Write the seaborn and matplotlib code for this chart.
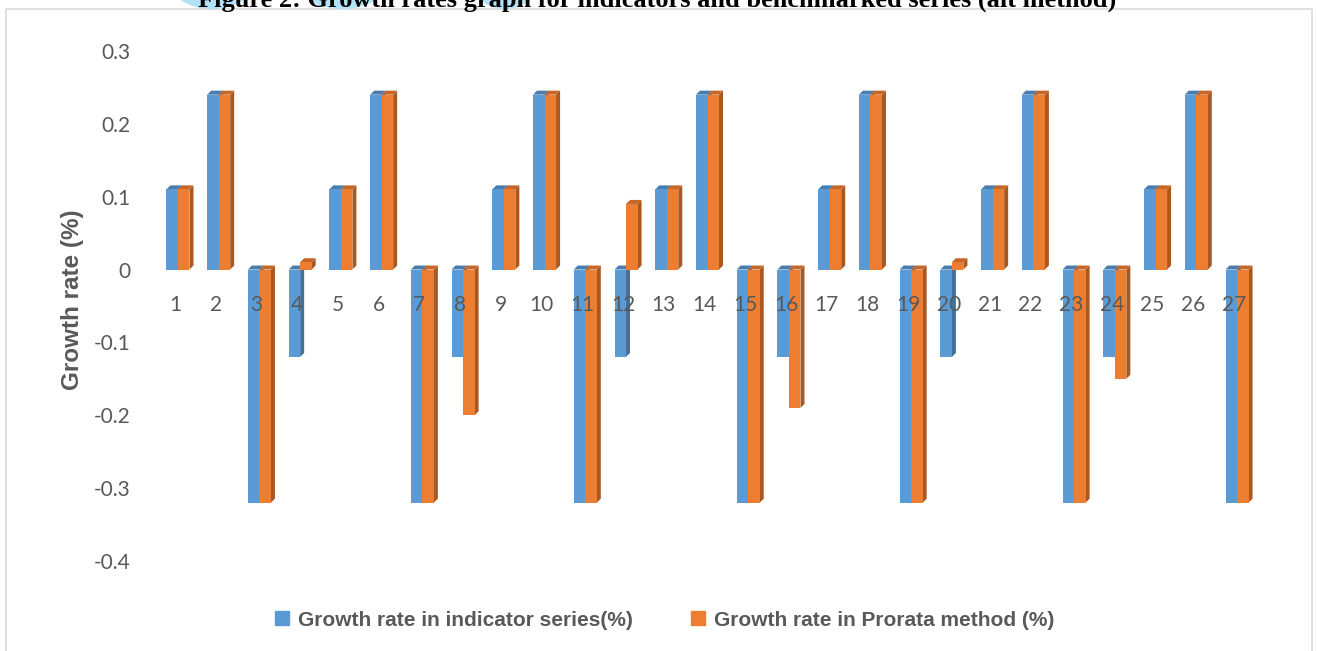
import matplotlib
matplotlib.use("Agg")
import numpy as np
import pandas as pd
import matplotlib.pyplot as plt
import seaborn as sns
from matplotlib.patches import Polygon, Ellipse, Rectangle
from matplotlib.lines import Line2D

# ---- data -------------------------------------------------------------
periods = [str(i) for i in range(1, 28)]
series_names = ["Growth rate in indicator series(%)",
                "Growth rate in Prorata method (%)"]
indicator = [0.11, 0.24, -0.32, -0.12, 0.11, 0.24, -0.32, -0.12, 0.11,
             0.24, -0.32, -0.12, 0.11, 0.24, -0.32, -0.12, 0.11, 0.24,
             -0.32, -0.12, 0.11, 0.24, -0.32, -0.12, 0.11, 0.24, -0.32]
prorata = [0.11, 0.24, -0.32, 0.01, 0.11, 0.24, -0.32, -0.20, 0.11,
           0.24, -0.32, 0.09, 0.11, 0.24, -0.32, -0.19, 0.11, 0.24,
           -0.32, 0.01, 0.11, 0.24, -0.32, -0.15, 0.11, 0.24, -0.32]
y_ticks = [0.3, 0.2, 0.1, 0, -0.1, -0.2, -0.3, -0.4]
y_tick_labels = ["0.3", "0.2", "0.1", "0", "-0.1", "-0.2", "-0.3", "-0.4"]
title = "Figure 2: Growth rates graph for indicators and benchmarked series (alt method)"

# ---- style ------------------------------------------------------------
BLUE, ORANGE = "#5B9BD5", "#ED7D31"
BLUE_SIDE, BLUE_TOP = "#41719C", "#4A7DAE"
ORANGE_SIDE, ORANGE_TOP = "#A9581F", "#C6672A"
GREY = "#595959"
BOLD_FAMILY = ["Liberation Sans Narrow", "Liberation Sans", "DejaVu Sans"]

sns.set_theme(style="white")
plt.rcParams["font.family"] = ["Lato", "DejaVu Sans"]

W, H = 1317, 651
fig = plt.figure(figsize=(W / 100, H / 100), dpi=100)

# plot area in pixels
x_left, x_right = 154.6, 1254.4
y_top, y_bottom = 14.5, 597.4
ax = fig.add_axes([x_left / W, 1 - y_bottom / H,
                   (x_right - x_left) / W, (y_bottom - y_top) / H])
ax.patch.set_visible(False)

df = pd.DataFrame({
    "period": periods * 2,
    "series": [series_names[0]] * len(periods) + [series_names[1]] * len(periods),
    "value": indicator + prorata,
})

sns.barplot(data=df, x="period", y="value", hue="series",
            order=periods, hue_order=series_names,
            palette=[BLUE, ORANGE], saturation=1, width=0.565,
            legend=False, ax=ax)

ax.set_xlim(-0.5, len(periods) - 0.5)
ax.set_ylim(-0.45, 0.35)

# pseudo-3D depth: small offset up and to the right for each column
px_per_x = (x_right - x_left) / len(periods)
px_per_y = (y_bottom - y_top) / 0.8
dx = 4 / px_per_x
dy = 4 / px_per_y
shift = 3 / px_per_x

bars = [p for p in ax.patches if isinstance(p, Rectangle)]
n = len(periods)
for i, bar in enumerate(bars):
    is_blue = i < n
    side_c = BLUE_SIDE if is_blue else ORANGE_SIDE
    top_c = BLUE_TOP if is_blue else ORANGE_TOP
    z = 2 if is_blue else 3
    bar.set_x(bar.get_x() + shift)
    bar.set_zorder(z)
    bar.set_edgecolor("none")
    x0 = bar.get_x()
    x1 = x0 + bar.get_width()
    y0 = bar.get_y()
    y1 = y0 + bar.get_height()
    lo, hi = min(y0, y1), max(y0, y1)
    side = Polygon([(x1, lo), (x1 + dx, lo + dy), (x1 + dx, hi + dy), (x1, hi)],
                   closed=True, facecolor=side_c, edgecolor="none", zorder=z - 0.1)
    top = Polygon([(x0, hi), (x0 + dx, hi + dy), (x1 + dx, hi + dy), (x1, hi)],
                  closed=True, facecolor=top_c, edgecolor="none", zorder=z - 0.1)
    ax.add_patch(side)
    ax.add_patch(top)

# axes cosmetics
for s in ax.spines.values():
    s.set_visible(False)
ax.spines["bottom"].set_position(("data", 0))
ax.set_yticks(y_ticks)
ax.set_yticklabels(y_tick_labels)
ax.tick_params(axis="y", length=0, pad=17, labelsize=15, labelcolor=GREY)
ax.tick_params(axis="x", length=0, pad=18, labelsize=15, labelcolor=GREY)
ax.xaxis.set_zorder(10)
ax.grid(False)
ax.set_xlabel("")
ax.set_ylabel("Growth rate (%)", fontsize=17.5, fontweight="bold", color=GREY,
              va="center", family=BOLD_FAMILY)
ax.yaxis.set_label_coords((73 - x_left) / (x_right - x_left),
                          (y_bottom - 300) / (y_bottom - y_top))

# legend
handles = [Line2D([], [], marker="s", linestyle="none", markersize=10,
                  markerfacecolor=c, markeredgecolor=c) for c in (BLUE, ORANGE)]
fig.legend(handles, series_names, loc="center",
           bbox_to_anchor=(664 / W, 1 - 620 / H), ncol=2, frameon=False,
           prop={"weight": "bold", "size": 15, "family": BOLD_FAMILY},
           labelcolor=GREY, handlelength=0.8, handletextpad=0.35,
           columnspacing=2.75)

# outer frame of the chart
fig.patches.append(Rectangle((6 / W, -0.05), 1306 / W, (H - 9) / H + 0.05,
                             transform=fig.transFigure, fill=False,
                             edgecolor="#D9D9D9", linewidth=1.2, zorder=1))

# highlighted caption across the top edge
for cx, w in [(212, 84), (342, 90), (505, 66)]:
    fig.patches.append(Ellipse((cx / W, 1 + 18 / H), w / W, 54 / H,
                               transform=fig.transFigure, facecolor="#B4E1FA",
                               edgecolor="none", zorder=2))
fig.text(657 / W, 1 - 7 / H, title, ha="center", va="baseline",
         fontfamily="Liberation Serif", fontweight="bold", fontsize=19,
         color="black", zorder=3)

fig.savefig("out.png", dpi=100)
